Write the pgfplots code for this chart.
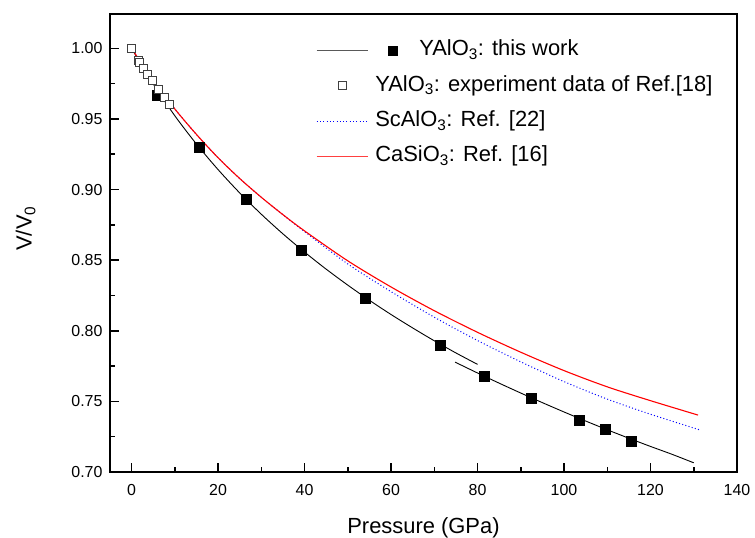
\documentclass[border=0pt]{standalone}
\usepackage{fontspec}
\setmainfont{Liberation Sans}
\usepackage{pgfplots}
\pgfplotsset{compat=1.18}
\begin{document}
\begin{tikzpicture}
\path[use as bounding box] (-110bp,-66bp) rectangle (645bp,472bp);
\begin{axis}[
  at={(0,0)}, anchor=south west,
  scale only axis, width=627bp, height=458bp,
  xmin=-5, xmax=140, ymin=0.70, ymax=1.0243,
  xtick={0,20,40,60,80,100,120,140}, minor x tick num=1,
  ytick={0.70,0.75,0.80,0.85,0.90,0.95,1.00}, minor y tick num=1,
  tick pos=left, tick align=inside,
  major tick length=9bp, minor tick length=5bp,
  every tick/.style={black, line width=1.5bp},
  axis line style={line width=1.6bp},
  /pgf/number format/assume math mode=true,
  y tick label style={/pgf/number format/fixed, /pgf/number format/fixed zerofill, /pgf/number format/precision=2},
  tick label style={font=\fontsize{16}{19}\selectfont},
  xticklabel style={yshift=-9bp},
  yticklabel style={xshift=-4bp},
  xlabel={Pressure (GPa)}, ylabel={V/V\textsubscript{0}},
  every axis x label/.style={at={(axis description cs:0.5,0)}, anchor=base, yshift=-61bp, font=\fontsize{22}{26}\selectfont},
  every axis y label/.style={at={(axis description cs:-0.1249,0.5317)}, rotate=90, anchor=base, font=\fontsize{22}{26}\selectfont},
  legend style={at={(axis description cs:0.3285,0.9439)}, anchor=north west, draw=none, fill=none,
    inner sep=0pt, row sep=13.8bp, column sep=7bp, font=\fontsize{22}{26}\selectfont,
    nodes={inner xsep=0pt, inner ysep=0pt, text height=16bp, text depth=5.5bp}},
  legend cell align=left,
]
% black curve segment 1
\addplot[black, line width=0.9bp, smooth, legend image code/.code={
    \draw[black!65, line width=0.9bp] (0bp,0bp) -- (51bp,0bp);
    \fill[black, overlay] (72.2bp,-4.5bp) rectangle (81.2bp,4.5bp);}]
  coordinates {(0,1.0000) (2.5,0.9869) (5,0.9747) (10,0.9522) (15,0.9322) (20,0.9141) (25,0.8976) (30,0.8825) (35,0.8686) (40,0.8557) (45,0.8436) (50,0.8323) (55,0.8216) (60,0.8115) (65,0.8020) (70,0.7929) (75,0.7843) (80,0.7762)};
\addlegendentry{\hspace*{44bp}YAlO\textsubscript{3}: this work}
% black curve segment 2
\addplot[black, line width=0.9bp, smooth, forget plot]
  coordinates {(74.8,0.7778) (80,0.7701) (85,0.7629) (90,0.7559) (95,0.7491) (100,0.7425) (105,0.7361) (110,0.7299) (115,0.7239) (120,0.7181) (125,0.7125) (130,0.7065)};
% filled squares
\addplot[only marks, mark=square*, mark size=5bp, mark options={fill=black, draw=black}, forget plot]
  coordinates {(5.9,0.967) (15.6,0.930) (26.5,0.893) (39.2,0.857) (54.1,0.823) (71.4,0.790) (81.6,0.768) (92.5,0.752) (103.5,0.737) (109.5,0.730) (115.5,0.722)};
% open squares
\addplot[only marks, mark=square*, mark size=4bp, mark options={fill=white, draw=black!75, line width=0.9bp},
  legend image code/.code={\draw[black!75, fill=white, line width=0.9bp] (21.5bp,-4bp) rectangle (29.5bp,4bp);}]
  coordinates {(0,1.000) (1.5,0.9916) (1.9,0.9897) (2.7,0.9857) (3.6,0.9817) (4.8,0.9769) (6.2,0.9708) (7.7,0.9652) (8.8,0.9604)};
\addlegendentry{YAlO\textsubscript{3}: experiment data of Ref.[18]}
% ScAlO3 blue dotted
\addplot[blue, line width=1bp, dash pattern=on 1bp off 2.3bp, smooth,
  legend image code/.code={\draw[blue, line width=1bp, dash pattern=on 1bp off 2.3bp] (0bp,0bp) -- (51bp,0bp);}]
  coordinates {(0,1.0000) (5,0.9770) (10,0.9570) (15,0.9390) (20,0.9225) (25,0.9078) (30,0.8945) (35,0.8822) (40,0.8702) (50,0.8473) (60,0.8277) (70,0.8096) (80,0.7931) (90,0.7780) (100,0.7640) (110,0.7516) (120,0.7409) (131.5,0.7297)};
\addlegendentry{ScAlO\textsubscript{3}: Ref. [22]}
% CaSiO3 red
\addplot[red, line width=1.1bp, smooth,
  legend image code/.code={\draw[red!75, line width=1.1bp] (0bp,0bp) -- (51bp,0bp);}]
  coordinates {(0,1.0000) (5,0.9770) (10,0.9570) (15,0.9390) (20,0.9225) (25,0.9078) (30,0.8945) (35,0.8822) (40,0.8707) (50,0.8495) (60,0.8310) (70,0.8142) (80,0.7989) (90,0.7848) (100,0.7718) (110,0.7603) (120,0.7505) (131,0.7403)};
\addlegendentry{CaSiO\textsubscript{3}: Ref. [16]}
\end{axis}
\end{tikzpicture}
\end{document}
